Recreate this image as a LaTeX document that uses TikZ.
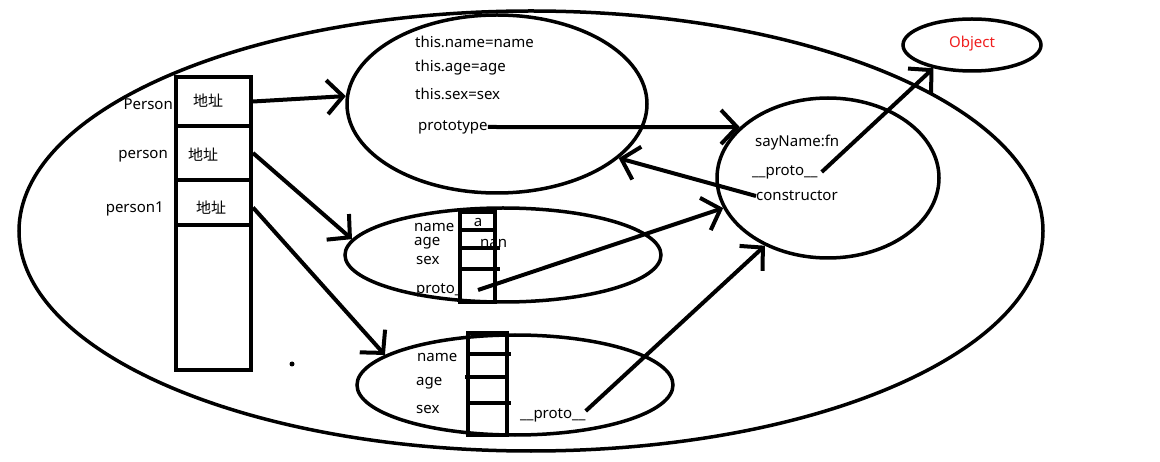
\documentclass[tikz,border=0pt]{standalone}
\usepackage{fontspec}
\setmainfont{Noto Sans}
\newfontfamily\cjk{Noto Sans CJK SC}
\usetikzlibrary{shapes.geometric,arrows.meta}
\begin{document}
\begin{tikzpicture}[x=1pt,y=-1pt,
  oval/.style={draw, ellipse, line width=3.5pt, inner sep=0pt},
  cell/.style={draw, rectangle, line width=4pt, inner sep=0pt, minimum width=75pt},
  lbl/.style={font=\fontsize{15}{18}\selectfont, inner sep=0pt, anchor=west},
  cn/.style={font=\cjk\fontsize{15}{18}\selectfont, inner sep=0pt, anchor=west},
  grid/.style={line width=4pt},
  arr/.style={line width=4pt, -{Straight Barb[length=16pt,width=34pt,line width=4pt]}}]
\useasboundingbox (0,0) rectangle (1160,462);
% big outer ellipse
\node[oval, minimum width=1024pt, minimum height=440pt] (world) at (531,231) {};
% left column
\node[cell, minimum height=49pt] (c1) at (213.5,101.5) {};
\node[cell, minimum height=54pt] (c2) at (213.5,153) {};
\node[cell, minimum height=45pt] (c3) at (213.5,202.5) {};
\node[cell, minimum height=145pt] (c4) at (213.5,297.5) {};
\node[cn] (a1) at (193,101) {地址};
\node[cn] (a2) at (188,155) {地址};
\node[cn] (a3) at (196,208) {地址};
\node[lbl, anchor=east] (lP) at (173,104) {Person};
\node[lbl, anchor=east] (lp) at (168,156) {person};
\node[lbl, anchor=east] (lp1) at (164,209) {person1};
\fill (292,364) circle (2.5pt);
% constructor ellipse
\node[oval, minimum width=300pt, minimum height=178pt] (e1) at (497,104) {};
\node[lbl] (t1) at (415,42) {this.name=name};
\node[lbl] (t2) at (415,68) {this.age=age};
\node[lbl] (t3) at (415,94) {this.sex=sex};
\node[lbl] (proto) at (418,127) {prototype};
% person instance
\node[oval, minimum width=316pt, minimum height=94pt] (e2) at (503,255) {};
\draw[grid] (460,212) rectangle (495,302);
\draw[grid] (460,230) -- (495,230);
\draw[grid] (460,248) -- (500,248);
\draw[grid] (460,269) -- (500,269);
\node[lbl] (n2) at (414,227) {name};
\node[lbl] (g2) at (414,243) {age};
\node[lbl] (s2) at (416,260) {sex};
\node[lbl] (p2) at (416,290) {proto\_};
\node[lbl, anchor=center] (va) at (478,222) {a};
\node[lbl] (vn) at (480,243) {nan};
\coordinate (p2s) at (478,290);
% person1 instance
\node[oval, minimum width=316pt, minimum height=100pt] (e3) at (515,385) {};
\draw[grid] (468,333) rectangle (507,435);
\draw[grid] (468,354) -- (511,354);
\draw[grid] (465,377) -- (507,377);
\draw[grid] (468,403) -- (511,403);
\node[lbl] (n3) at (417,357) {name};
\node[lbl] (g3) at (416,383) {age};
\node[lbl] (s3) at (416,409) {sex};
\node[lbl] (p3) at (520,415) {\_\_proto\_\_};
% prototype object
\node[oval, minimum width=222pt, minimum height=160pt] (e4) at (828,178) {};
\node[lbl] (say) at (755,143) {sayName:fn};
\node[lbl] (rp) at (752,172) {\_\_proto\_\_};
\node[lbl] (ctor) at (756,196) {constructor};
% Object
\node[oval, minimum width=138pt, minimum height=52pt] (obj) at (972,45) {};
\node[lbl, anchor=center, text={rgb,255:red,240;green,30;blue,30}] (objt) at (972,44) {Object};
% arrows
\draw[arr] (c1.east) -- (e1.177);
\draw[arr] (c2.east) -- (e2.174);
\draw[arr] ([yshift=-5pt]c3.east) -- (e3.167);
\draw[arr] (proto.east) -- (e4.150);
\draw[arr] (ctor.west) -- (e1.-24);
\draw[arr] (p2s) -- (e4.-164);
\draw[arr] ([yshift=4pt]p3.east) -- (e4.-133);
\draw[arr] ([xshift=4pt]rp.east) -- (obj.-149);
\end{tikzpicture}
\end{document}
